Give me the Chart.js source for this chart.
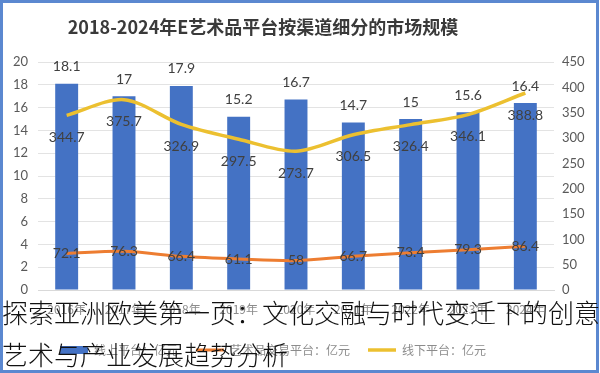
<!DOCTYPE html>
<html>
<head>
<meta charset="utf-8">
<script src="https://cdn.jsdelivr.net/npm/chart.js@4.4.0/dist/chart.umd.min.js"></script>
<style>
  html, body { margin: 0; padding: 0; background: #fff; }
  #wrap { position: relative; width: 600px; height: 373px; }
  #overlay {
    position: absolute; left: 2px; top: 291px; width: 600px;
    font-family: "Noto Sans CJK SC", sans-serif; font-size: 26px; font-weight: 300; line-height: 42px;
    color: #111; white-space: nowrap; pointer-events: none;
  }
</style>
</head>
<body>
<div id="wrap">
  <canvas id="myChart" width="600" height="373"></canvas>
  <div id="overlay">探索亚洲欧美第一页：文化交融与时代变迁下的创意<br>艺术与产业发展趋势分析</div>
</div>
<script>
// 데이터
var years = ['2016年', '2017年', '2018年', '2019年', '2020年', '2021年', '2022年', '2023年', '2024年'];
var onlineValues = [18.1, 17, 17.9, 15.2, 16.7, 14.7, 15, 15.6, 16.4];
var tradeValues = [72.1, 76.3, 66.4, 61.1, 58, 66.7, 73.4, 79.3, 86.4];
var offlineValues = [344.7, 375.7, 326.9, 297.5, 273.7, 306.5, 326.4, 346.1, 388.8];
var seriesNames = ['线上平台：亿元', '艺术品交易平台：亿元', '线下平台：亿元'];
var leftTicks = [0, 2, 4, 6, 8, 10, 12, 14, 16, 18, 20];
var rightTicks = [0, 50, 100, 150, 200, 250, 300, 350, 400, 450];
var titleText = '2018-2024年E艺术品平台按渠道细分的市场规模';

// 제목 + 테두리
var framePlugin = {
    id: 'frame',
    beforeDraw: function (chart) {
        var c = chart.ctx;
        c.save();
        c.fillStyle = '#fff';
        c.fillRect(0, 0, chart.width, chart.height);
        c.restore();
    },
    afterLayout: function (chart) {
        // 범례를 왼쪽으로 조금 이동
        if (chart.legend) {
            chart.legend.left -= 27;
            chart.legend.right -= 27;
        }
    },
    afterDraw: function (chart) {
        var c = chart.ctx;
        c.save();
        c.strokeStyle = '#5b88d0';
        c.lineWidth = 3;
        c.strokeRect(1.5, 1.5, chart.width - 4, chart.height - 3);
        c.font = 'bold 18px "Noto Sans CJK SC"';
        c.fillStyle = '#3a3a3a';
        c.textAlign = 'center';
        c.textBaseline = 'middle';
        c.fillText(titleText, 263, 27);
        c.restore();
    }
};

// 데이터 라벨 (datalabels 대신 직접 그림)
var labelPlugin = {
    id: 'valueLabels',
    afterDatasetsDraw: function (chart) {
        var c = chart.ctx;
        c.save();
        c.font = '14px Lato';
        c.fillStyle = '#404040';
        c.textAlign = 'center';
        c.textBaseline = 'middle';
        chart.data.datasets.forEach(function (ds, i) {
            var meta = chart.getDatasetMeta(i);
            meta.data.forEach(function (el, j) {
                var y = el.y;
                if (ds.type === 'bar') y = el.y - 17;
                else if (ds.labelPos === 'below') y = el.y + 22;
                c.fillText(String(ds.data[j]), el.x, y);
            });
        });
        c.restore();
    }
};

var ctx = document.getElementById('myChart').getContext('2d');
var myChart = new Chart(ctx, {
    data: {
        labels: years,
        datasets: [{
            type: 'bar',
            label: seriesNames[0],
            data: onlineValues,
            backgroundColor: '#4472c4',
            yAxisID: 'y',
            order: 3,
            categoryPercentage: 0.8,
            barPercentage: 0.5,
            pointStyle: 'rect'
        }, {
            type: 'line',
            label: seriesNames[1],
            data: tradeValues,
            borderColor: '#ed7d31',
            backgroundColor: '#ed7d31',
            borderWidth: 3,
            pointRadius: 0,
            tension: 0.3,
            yAxisID: 'y1',
            order: 1,
            pointStyle: 'line'
        }, {
            type: 'line',
            label: seriesNames[2],
            data: offlineValues,
            borderColor: '#ecc030',
            backgroundColor: '#ecc030',
            borderWidth: 3.5,
            pointRadius: 0,
            tension: 0.3,
            yAxisID: 'y1',
            order: 2,
            labelPos: 'below',
            pointStyle: 'line'
        }]
    },
    options: {
        responsive: false,
        animation: false,
        layout: { padding: { left: 0, right: 0, top: 62, bottom: 7 } },
        scales: {
            x: {
                grid: { display: false },
                border: { color: '#d9d9d9' },
                ticks: { color: '#8c8c8c', font: { size: 12, family: 'Noto Sans CJK SC' }, padding: 4, maxRotation: 0 },
                afterFit: function (scale) { scale.height = 36; }
            },
            y: {
                position: 'left',
                min: 0, max: 20,
                afterBuildTicks: function (scale) { scale.ticks = leftTicks.map(function (v) { return { value: v }; }); },
                grid: { color: '#e3e3e3', drawTicks: false },
                border: { display: false },
                ticks: { color: '#595959', font: { size: 13, family: 'Lato' }, padding: 10 },
                afterFit: function (scale) { scale.width = 38; }
            },
            y1: {
                position: 'right',
                min: 0, max: 450,
                afterBuildTicks: function (scale) { scale.ticks = rightTicks.map(function (v) { return { value: v }; }); },
                grid: { display: false, drawTicks: false },
                border: { display: false },
                ticks: { color: '#595959', font: { size: 13, family: 'Lato' }, padding: 8 },
                afterFit: function (scale) { scale.width = 46; }
            }
        },
        plugins: {
            title: { display: false },
            tooltip: { enabled: false },
            legend: {
                position: 'bottom',
                labels: {
                    usePointStyle: true,
                    pointStyleWidth: 28,
                    boxHeight: 8,
                    color: '#8c8c8c',
                    font: { size: 12, family: 'Noto Sans CJK SC' },
                    padding: 18,
                    sort: function (a, b) { return a.datasetIndex - b.datasetIndex; }
                }
            }
        }
    },
    plugins: [framePlugin, labelPlugin]
});
</script>
</body>
</html>
